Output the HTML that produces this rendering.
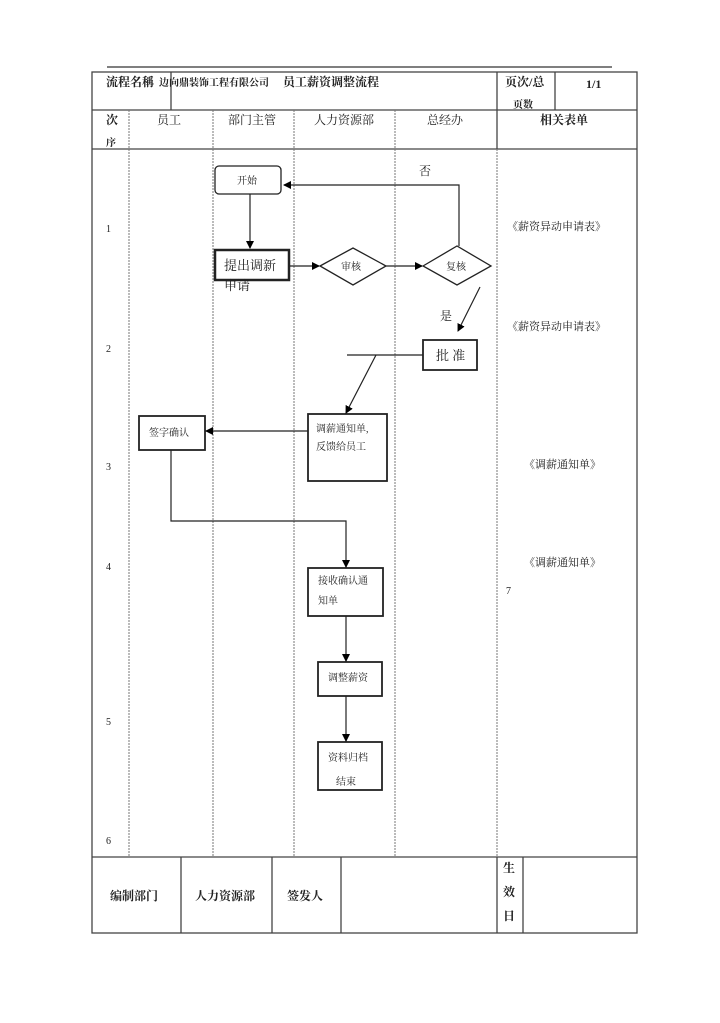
<!DOCTYPE html>
<html><head><meta charset="utf-8"><style>
html,body{margin:0;padding:0;background:#fff;}
svg text{font-family:"Liberation Serif","Noto Serif CJK SC","Noto Sans CJK SC",serif;fill:#222;}
</style></head><body>
<svg width="720" height="1018" viewBox="0 0 720 1018" xmlns="http://www.w3.org/2000/svg">
<defs><marker id="a" markerWidth="8" markerHeight="8" refX="7" refY="4" orient="auto" markerUnits="userSpaceOnUse"><path d="M0,0 L8,4 L0,8 z" fill="#000"/></marker></defs>
<line x1="107" y1="67" x2="612" y2="67" stroke="#555" stroke-width="1.5"/>
<g stroke="#444" stroke-width="1.3" fill="none">
<rect x="92" y="72" width="545" height="861"/>
<line x1="92" y1="110" x2="637" y2="110"/>
<line x1="92" y1="149" x2="637" y2="149"/>
<line x1="92" y1="857" x2="637" y2="857"/>
<line x1="171" y1="72" x2="171" y2="110"/>
<line x1="497" y1="72" x2="497" y2="149"/>
<line x1="555" y1="72" x2="555" y2="110"/>
<line x1="181" y1="857" x2="181" y2="933"/>
<line x1="272" y1="857" x2="272" y2="933"/>
<line x1="341" y1="857" x2="341" y2="933"/>
<line x1="497" y1="857" x2="497" y2="933"/>
<line x1="523" y1="857" x2="523" y2="933"/>
</g>
<g stroke="#777" stroke-width="1" stroke-dasharray="2,1">
<line x1="129" y1="110" x2="129" y2="857"/>
<line x1="213" y1="110" x2="213" y2="857"/>
<line x1="294" y1="110" x2="294" y2="857"/>
<line x1="395" y1="110" x2="395" y2="857"/>
<line x1="497" y1="149" x2="497" y2="857"/>
</g>
<g font-size="12" font-weight="bold">
<text x="106" y="86">流程名稱</text>
<text x="505" y="86">页次/总</text>
<text x="513" y="108" font-size="10">页数</text>
<text x="586" y="88">1/1</text>
<text x="106" y="124">次</text>
<text x="106" y="146" font-size="10">序</text>
<text x="540" y="124">相关表单</text>
<text x="110" y="900">编制部门</text>
<text x="195" y="900">人力资源部</text>
<text x="287" y="900">签发人</text>
<text x="503" y="872">生</text>
<text x="503" y="896">效</text>
<text x="503" y="920">日</text>
</g>
<text x="159" y="86" font-size="10" font-weight="bold">边向鼎装饰工程有限公司</text>
<text x="283" y="86" font-size="12" font-weight="bold">员工薪资调整流程</text>
<g font-size="12" fill="#333">
<text x="157" y="124">员工</text>
<text x="228" y="124">部门主管</text>
<text x="314" y="124">人力资源部</text>
<text x="427" y="124">总经办</text>
</g>
<g font-size="10">
<text x="106" y="232">1</text><text x="106" y="352">2</text><text x="106" y="470">3</text>
<text x="106" y="570">4</text><text x="106" y="725">5</text><text x="106" y="844">6</text>
<text x="506" y="594">7</text>
</g>
<g font-size="11">
<text x="507" y="230">《薪资异动申请表》</text>
<text x="507" y="330">《薪资异动申请表》</text>
<text x="524" y="468">《调薪通知单》</text>
<text x="524" y="566">《调薪通知单》</text>
</g>
<g stroke="#222" stroke-width="1.3" fill="#fff">
<rect x="215" y="166" width="66" height="28" rx="4"/>
<rect x="215" y="250" width="74" height="30" stroke-width="2.5"/>
<polygon points="320,266 353,248 386,266 353,285"/>
<polygon points="423,266 457,246 491,266 457,285"/>
<rect x="423" y="340" width="54" height="30" stroke-width="1.8"/>
<rect x="308" y="414" width="79" height="67" stroke-width="1.8"/>
<rect x="139" y="416" width="66" height="34" stroke-width="1.8"/>
<rect x="308" y="568" width="75" height="48" stroke-width="1.8"/>
<rect x="318" y="662" width="64" height="34" stroke-width="1.8"/>
<rect x="318" y="742" width="64" height="48" stroke-width="1.8"/>
</g>
<g stroke="#222" stroke-width="1.2" fill="none">
<line x1="250" y1="194" x2="250" y2="248" marker-end="url(#a)"/>
<line x1="290" y1="266" x2="319" y2="266" marker-end="url(#a)"/>
<line x1="386" y1="266" x2="422" y2="266" marker-end="url(#a)"/>
<polyline points="459,246 459,185 284,185" marker-end="url(#a)"/>
<line x1="480" y1="287" x2="458" y2="331" marker-end="url(#a)"/>
<line x1="423" y1="355" x2="347" y2="355"/>
<line x1="376" y1="355" x2="346" y2="413" marker-end="url(#a)"/>
<line x1="308" y1="431" x2="206" y2="431" marker-end="url(#a)"/>
<polyline points="171,450 171,521 346,521 346,567" marker-end="url(#a)"/>
<line x1="346" y1="616" x2="346" y2="661" marker-end="url(#a)"/>
<line x1="346" y1="696" x2="346" y2="741" marker-end="url(#a)"/>
</g>
<g font-size="10" fill="#444">
<text x="237" y="184">开始</text>
<text x="341" y="270">审核</text>
<text x="446" y="270">复核</text>
<text x="316" y="432">调薪通知单,</text>
<text x="316" y="450">反馈给员工</text>
<text x="149" y="436">签字确认</text>
<text x="318" y="584">接收确认通</text>
<text x="318" y="604">知单</text>
<text x="328" y="681">调整薪资</text>
<text x="328" y="761">资料归档</text>
<text x="336" y="785">结束</text>
</g>
<g font-size="13">
<text x="224" y="270">提出调新</text>
<text x="224" y="290" fill="#555">申请</text>
<text x="419" y="175" font-size="12">否</text>
<text x="440" y="320" font-size="12">是</text>
<text x="436" y="360">批 准</text>
</g>
</svg>
</body></html>
